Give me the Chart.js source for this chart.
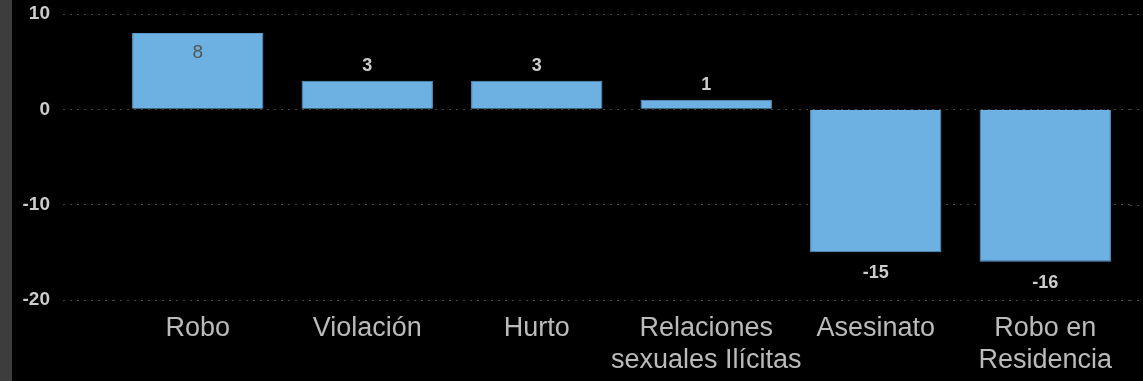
<!DOCTYPE html>
<html>
<head>
<meta charset="utf-8">
<script src="https://cdn.jsdelivr.net/npm/chart.js@4"></script>
<style>
  html, body { margin: 0; padding: 0; background: #000; }
  #wrap { width: 1143px; height: 381px; position: relative; }
</style>
</head>
<body>
<div id="wrap"><canvas id="grafico"></canvas></div>
<script>
const categorias = ['Robo', 'Violación', 'Hurto', ['Relaciones', 'sexuales Ilícitas'], 'Asesinato', ['Robo en', 'Residencia']];
const valores = [8, 3, 3, 1, -15, -16];
const ticksY = [10, 0, -10, -20];

const fonte = '"Liberation Sans", Arial, sans-serif';

// faixa cinza na esquerda + extensao das linhas de grade ate a borda
const fundo = {
  id: 'fundo',
  beforeDraw(chart) {
    const c = chart.ctx;
    c.save();
    c.fillStyle = '#000';
    c.fillRect(0, 0, chart.width, chart.height);
    c.fillStyle = '#3d3d3d';
    c.fillRect(0, 0, 12, chart.height);
    const y = chart.scales.y;
    c.strokeStyle = '#444';
    c.lineWidth = 1;
    c.setLineDash([2, 5]);
    for (const t of ticksY) {
      const py = Math.round(y.getPixelForValue(t)) + 0.5;
      c.beginPath();
      c.moveTo(chart.chartArea.right, py);
      c.lineTo(chart.width, py);
      c.stroke();
    }
    c.restore();
  }
};

// rotulos dos valores
const rotulos = {
  id: 'rotulos',
  afterDatasetsDraw(chart) {
    const c = chart.ctx;
    const meta = chart.getDatasetMeta(0);
    c.save();
    c.textAlign = 'center';
    c.textBaseline = 'alphabetic';
    meta.data.forEach(function(bar, i) {
      const v = valores[i];
      if (v >= 0) {
        if (bar.y - 30 < chart.chartArea.top) {
          c.font = '19px ' + fonte;
          c.fillStyle = '#555';
          c.fillText(v, bar.x, bar.y + 25);
        } else {
          c.font = 'bold 18px ' + fonte;
          c.fillStyle = '#ccc';
          c.fillText(v, bar.x, bar.y - 10);
        }
      } else {
        c.font = 'bold 18px ' + fonte;
        c.fillStyle = '#ccc';
        c.fillText(v, bar.x, bar.y + 26);
      }
    });
    c.restore();
  }
};

const ctx = document.getElementById('grafico');

new Chart(ctx, {
  type: 'bar',
  data: {
    labels: categorias,
    datasets: [{
      data: valores,
      backgroundColor: '#6db0e2',
      borderColor: '#5a9ccd',
      borderWidth: 1,
      categoryPercentage: 1,
      barPercentage: 0.775
    }]
  },
  options: {
    responsive: true,
    maintainAspectRatio: false,
    animation: false,
    layout: { padding: { top: 14, right: 13, left: 0, bottom: 0 } },
    plugins: {
      legend: { display: false },
      tooltip: { enabled: false }
    },
    scales: {
      x: {
        grid: { display: false },
        border: { display: false },
        ticks: {
          color: '#bbb',
          font: { family: fonte, size: 27, lineHeight: 1.2 },
          padding: 4,
          maxRotation: 0,
          autoSkip: false
        },
        afterFit(scale) {
          scale.height = 81;
          scale.paddingLeft = 0;
          scale.paddingRight = 0;
        }
      },
      y: {
        min: -20,
        max: 10,
        afterBuildTicks(scale) { scale.ticks = ticksY.map(v => ({ value: v })); },
        border: { display: false, dash: [2, 5] },
        grid: {
          color: '#444',
          tickBorderDash: [2, 5],
          tickColor: '#444',
          tickLength: 50
        },
        ticks: {
          color: '#ccc',
          font: { family: fonte, size: 19, weight: 'bold' },
          padding: 13
        },
        afterFit(scale) {
          scale.width = 113;
          scale.paddingTop = 0;
          scale.paddingBottom = 0;
        }
      }
    }
  },
  plugins: [fundo, rotulos]
});
</script>
</body>
</html>
